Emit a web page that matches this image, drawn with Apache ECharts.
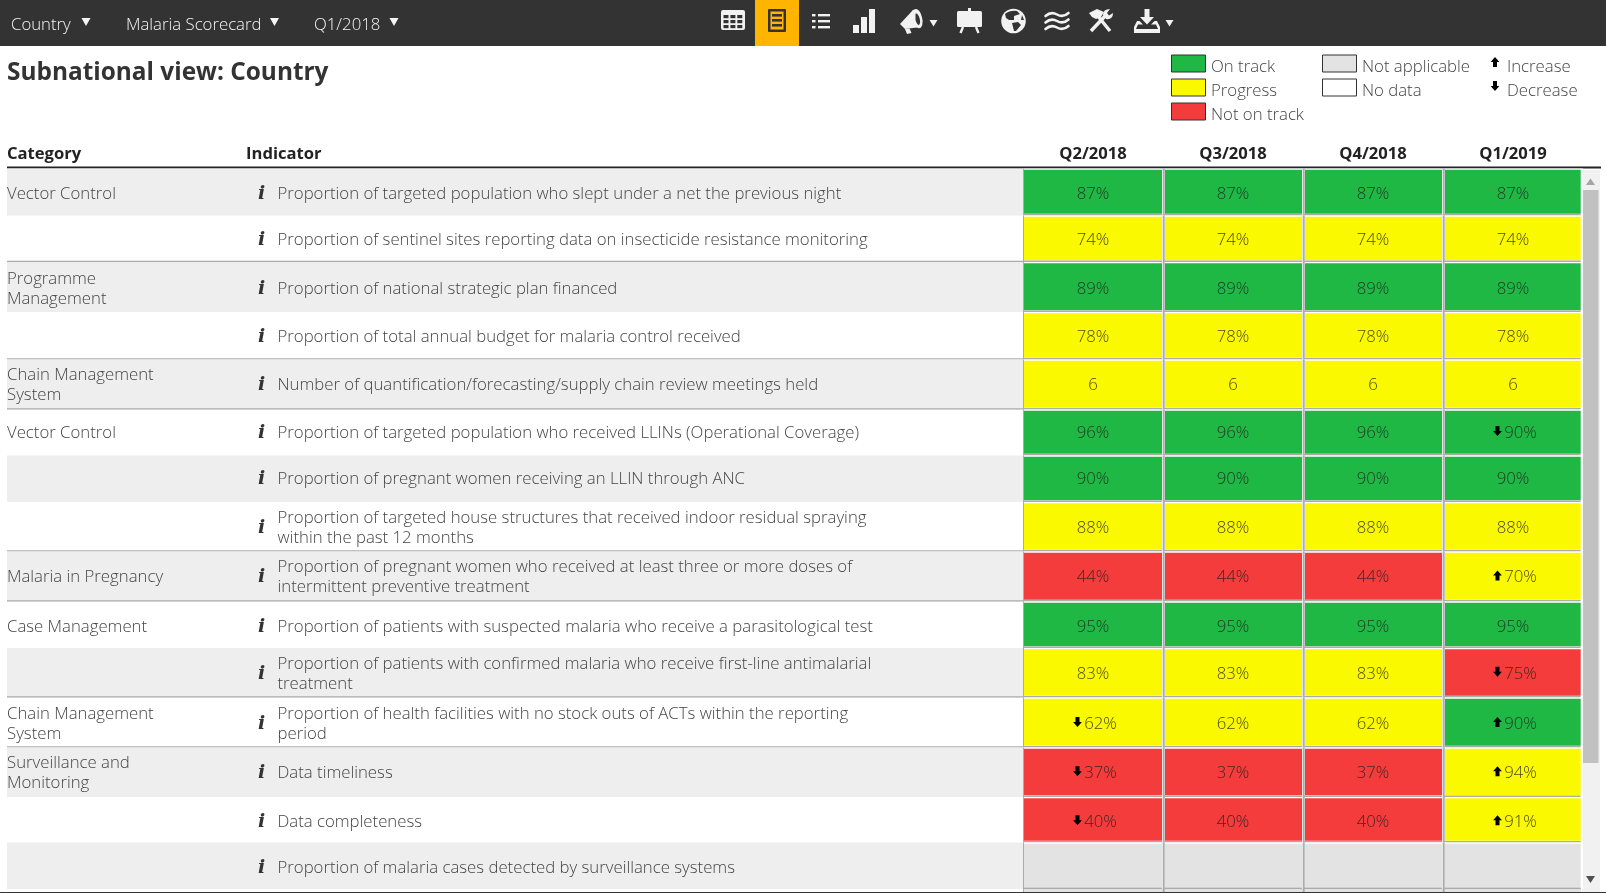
<!DOCTYPE html>
<html><head><meta charset="utf-8">
<style>html,body{margin:0;padding:0;background:#fff;overflow:hidden}#c{width:1606px;height:893px}</style>
<script src="https://cdn.jsdelivr.net/npm/echarts@6/dist/echarts.min.js"></script>
</head><body><div id="c"></div>
<script>
const quarters = ['Q2/2018','Q3/2018','Q4/2018','Q1/2019'];
const categories = ['Vector Control','','Programme\nManagement','','Chain Management\nSystem','Vector Control','','','Malaria in Pregnancy','Case Management','','Chain Management\nSystem','Surveillance and\nMonitoring','',''];
const indicators = [
 'Proportion of targeted population who slept under a net the previous night',
 'Proportion of sentinel sites reporting data on insecticide resistance monitoring',
 'Proportion of national strategic plan financed',
 'Proportion of total annual budget for malaria control received',
 'Number of quantification/forecasting/supply chain review meetings held',
 'Proportion of targeted population who received LLINs (Operational Coverage)',
 'Proportion of pregnant women receiving an LLIN through ANC',
 'Proportion of targeted house structures that received indoor residual spraying\nwithin the past 12 months',
 'Proportion of pregnant women who received at least three or more doses of\nintermittent preventive treatment',
 'Proportion of patients with suspected malaria who receive a parasitological test',
 'Proportion of patients with confirmed malaria who receive first-line antimalarial\ntreatment',
 'Proportion of health facilities with no stock outs of ACTs within the reporting\nperiod',
 'Data timeliness','Data completeness','Proportion of malaria cases detected by surveillance systems'];
const units = ['%','%','%','%','','%','%','%','%','%','%','%','%','%',''];
const q2Values = [87,74,89,78,6,96,90,88,44,95,83,62,37,40,null];
const q3Values = [87,74,89,78,6,96,90,88,44,95,83,62,37,40,null];
const q4Values = [87,74,89,78,6,96,90,88,44,95,83,62,37,40,null];
const q1Values = [87,74,89,78,6,90,90,88,70,95,75,90,94,91,null];
const q2Status = ['G','Y','G','Y','Y','G','G','Y','R','G','Y','Y','R','R','N'];
const q3Status = ['G','Y','G','Y','Y','G','G','Y','R','G','Y','Y','R','R','N'];
const q4Status = ['G','Y','G','Y','Y','G','G','Y','R','G','Y','Y','R','R','N'];
const q1Status = ['G','Y','G','Y','Y','G','G','Y','Y','G','R','G','Y','Y','N'];
const q2Trend = ['','','','','','','','','','','','d','d','d',''];
const q3Trend = ['','','','','','','','','','','','','','',''];
const q4Trend = ['','','','','','','','','','','','','','',''];
const q1Trend = ['','','','','','d','','','u','','d','u','u','u',''];
// row layout (px-height units on the y value axis, and the text's offset inside a row)
const rowSizes = [47,46.5,50,47.5,50,46,46.5,49.5,50,46.5,49.5,50,49.5,45.5,46.5];
const rowTextShift = [0,-1,0,-1,-2,-2,-2,-1,-1.5,0,-1.5,-1,-1.5,0,0];
const groupEnds = [1,3,4,7,8,10,11];

const FONT='"Open Sans"', TXT='#444', LIGHT='300 16.75px '+FONT;
const statusColor={G:'#1FB844',Y:'#FBF900',R:'#F43C3C',N:'#E3E3E3'};
const edges=[0]; rowSizes.forEach(h=>edges.push(edges[edges.length-1]+h));
const total=edges[edges.length-1];
const TOP=168.5, GRID_X=1023, GRID_W=560;
const vals=[q2Values,q3Values,q4Values,q1Values], sts=[q2Status,q3Status,q4Status,q1Status], trs=[q2Trend,q3Trend,q4Trend,q1Trend];
const cellData=[]; vals.forEach((col,q)=>col.forEach((v,r)=>cellData.push([q,r])));
const rowData=indicators.map((s,r)=>[0,r]);
const ARROW_D='M-2 -5 L2 -5 L2 0 L4.4 0 L0 5 L-4.4 0 L-2 0 Z', ARROW_U='M-2 5 L2 5 L2 0 L4.4 0 L0 -5 L-4.4 0 L-2 0 Z';

function renderCell(params,api){
  const q=api.value(0), r=api.value(1), v=vals[q][r];
  const c=api.coord([q,edges[r]]), bot=api.coord([q,edges[r+1]])[1], top=c[1];
  const bw=api.size([1,0])[0], x0=c[0]-bw/2, cx=c[0];
  const st=sts[q][r], tr=trs[q][r];
  const fx=x0+(q===0?1:2), fr=x0+(q===3?137.7:139);
  const ch=[
    {type:'rect',shape:{x:x0,y:top,width:bw,height:bot-top},style:{fill:'#fff'}},
    {type:'rect',shape:{x:fx,y:top+1.2,width:fr-fx,height:bot-top-3},style:{fill:statusColor[st]}},
    {type:'rect',shape:{x:x0,y:bot-1.6,width:fr-x0,height:1.6},style:{fill:'#ABABAB'}},
    {type:'rect',shape:{x:x0-(q===0?0:0.3),y:top,width:q===0?1:2,height:bot-top},style:{fill:'#ABABAB'}}
  ];
  if(v!=null){
    const label=v+units[r], off=tr?7.5:0, cy=(top+bot)/2-0.5+rowTextShift[r];
    ch.push({type:'text',style:{text:label,x:cx+off,y:cy+3,align:'center',verticalAlign:'middle',font:LIGHT,fill:'rgba(30,30,30,0.82)'}});
    if(tr) ch.push({type:'path',x:cx-15.5,y:cy+1,shape:{pathData:tr==='d'?ARROW_D:ARROW_U},style:{fill:'#000'}});
  }
  return {type:'group',children:ch};
}
function renderRow(params,api){
  const r=api.value(1), x0=api.coord([7,0])[0], x1=api.coord([GRID_X,0])[0];
  const top=api.coord([0,edges[r]])[1], bot=api.coord([0,edges[r+1]])[1], cy=(top+bot)/2-0.5+rowTextShift[r];
  const ch=[];
  if(r%2===0) ch.push({type:'rect',shape:{x:x0,y:top,width:x1-x0,height:bot-top},style:{fill:'#EEEEEE'}});
  if(groupEnds.includes(r)) ch.push({type:'rect',shape:{x:x0,y:bot-1.2,width:x1-x0,height:1.2},style:{fill:'#ABABAB'}});
  ch.push({type:'text',style:{text:categories[r],x:x0,y:cy+3,align:'left',verticalAlign:'middle',font:LIGHT,lineHeight:20,fill:TXT}});
  ch.push({type:'text',style:{text:'i',x:261.5,y:cy+3,align:'center',verticalAlign:'middle',font:'italic bold 19px "DejaVu Serif"',fill:'#333'}});
  ch.push({type:'text',style:{text:indicators[r],x:277.5,y:cy+3,align:'left',verticalAlign:'middle',font:LIGHT,lineHeight:20,fill:TXT}});
  return {type:'group',children:ch};
}

// page furniture
const g=[];
const R=(x,y,w,h,fill,rad,extra)=>g.push({type:'rect',shape:{x,y,width:w,height:h,r:rad||0},style:Object.assign({fill},extra||{})});
const T=(text,x,y,font,fill,align)=>g.push({type:'text',style:{text,x,y,font,fill,align:align||'left',verticalAlign:'middle'}});
const P=(d,style)=>g.push({type:'path',shape:{pathData:d},style});
const W='#F2F2F2', BAR='#333333';
R(0,0,1606,46,BAR);
[['Country',11,86],['Malaria Scorecard',126,274.5],['Q1/2018',314,394]].forEach(a=>{
  T(a[0],a[1],25,LIGHT,'#F5F5F5');
  P(`M${a[2]-4.5} 18 L${a[2]+4.5} 18 L${a[2]} 26 Z`,{fill:'#F5F5F5'});
});
// table icon
R(721,10,24,20,W,2);
for(let i=0;i<3;i++)for(let j=0;j<3;j++)R(723.5+i*6.9,15+j*5,5,3.2,BAR);
// active tab
R(755,0,44,46,'#FFB400');
R(768,9,18,23,BAR,1); R(770.5,11.5,13,18,'#FFB400');
[14,19,24].forEach(y=>R(772,y,10,2.6,BAR));
// list
[15,21,27].forEach(y=>{R(812,y-1,3.5,2.4,W);R(818,y-1,12,2.4,W);});
// bars
R(853,25,6,8,W);R(861,17,6,16,W);R(869,9,6,24,W);
// megaphone
P('M900 24 L913 10 L921 27 L905 29 Z',{fill:W});
P('M905 29 L909.5 28.5 L911.5 33 L907 34 Z',{fill:W});
P('M912.5 10.5 Q917 6.5 920.5 13 Q924.5 22 921 27.5 Q917.5 30 914.5 25 Z',{fill:W});
P('M915.5 13.5 Q918 13 919.5 18 Q921 23 919 25 Q917 25 915.5 20 Z',{fill:BAR});
P('M929.5 20 L937.5 20 L933.5 26.5 Z',{fill:W});
// board
R(957,11,25,16,W,1.5);R(968,8,3,3,W);
P('M963 27 L960.5 33 M976 27 L978.5 33',{stroke:W,lineWidth:2.4,fill:'none'});
// globe
g.push({type:'circle',shape:{cx:1013.5,cy:21,r:12.3},style:{fill:W}});
P('M1005 14 Q1010 10 1017 11 L1020 14 L1014 16 L1014 20 L1009 20 L1006 18 Z',{fill:BAR});
P('M1012 23 L1018 22 L1021 25 L1016 31 L1014 31 L1013 27 Z',{fill:BAR});
P('M1022 15 L1024 20 L1021 20 Z',{fill:BAR});
// waves
[14.5,21,27.5].forEach(y=>P(`M1045.5 ${y+1.5} Q1051 ${y-3.5} 1057 ${y} T1068.5 ${y-1.5}`,{stroke:W,lineWidth:2.6,fill:'none',lineCap:'round'}));
// tools
P('M1110 31 L1097 15',{stroke:W,lineWidth:3.4,fill:'none'});
P('M1089 13 L1097 9 L1104 12 L1101 17 L1096 19 L1092 17 Z',{fill:W});
P('M1091 31 L1106 15',{stroke:W,lineWidth:3.4,fill:'none'});
P('M1103 15 Q1103 9 1110 9 L1107 13 L1109 15.5 L1113 13 Q1113 20 1106 19 Z',{fill:W});
// download
P('M1144.5 9 L1149.5 9 L1149.5 17 L1154 17 L1147 24.5 L1140 17 L1144.5 17 Z',{fill:W});
P('M1139.5 21 L1143 24.5 L1138 24.5 L1136 29 L1158 29 L1156 24.5 L1151 24.5 L1154.5 21 L1157 21 L1160 27 L1160 33 L1134 33 L1134 27 L1137 21 Z',{fill:W});
P('M1165.5 20 L1173.5 20 L1169.5 26.5 Z',{fill:W});
// title & headers
T('Subnational view: Country',7,73.5,'bold 24.4px '+FONT,'#333');
T('Category',7,154,'bold 16.6px '+FONT,'#222');
T('Indicator',246,154,'bold 16.6px '+FONT,'#222');
R(7,166.5,1594,2,'#222');
// legend
[['On track','#1FB844',55],['Progress','#FBF900',79],['Not on track','#F43C3C',103]].forEach(a=>{
  R(1171.5,a[2],34,17,a[1],0,{stroke:'#333',lineWidth:1});
  T(a[0],1211,a[2]+12,LIGHT,TXT);
});
[['Not applicable','#E3E3E3',55],['No data','#FFFFFF',79]].forEach(a=>{
  R(1322.5,a[2],34,17,a[1],0,{stroke:'#333',lineWidth:1});
  T(a[0],1362,a[2]+12,LIGHT,TXT);
});
g.push({type:'path',x:1495,y:62,shape:{pathData:ARROW_U},style:{fill:'#000'}});
g.push({type:'path',x:1495,y:86,shape:{pathData:ARROW_D},style:{fill:'#000'}});
T('Increase',1507,67,LIGHT,TXT);
T('Decrease',1507,91,LIGHT,TXT);
// scrollbar
R(1582,170,18,722,'#F1F1F1');
R(1582.5,190,16,573,'#C1C1C1');
P('M1586 185 L1595 185 L1590.5 178.5 Z',{fill:'#A6A6A6'});
P('M1586 876 L1595 876 L1590.5 883 Z',{fill:'#505050'});
// clipped next row and window edge
R(1024,889,557,3,'#E3E3E3');
[1023,1162.7,1302.7,1442.7].forEach(x=>R(x,889,x===1023?1:2,3,'#ABABAB'));
R(0,892,1606,1,'#333');

const chart=echarts.init(document.getElementById('c'),null,{renderer:'canvas'});
chart.setOption({
  animation:false, backgroundColor:'#fff',
  grid:[
    {left:GRID_X,top:TOP,width:GRID_W,height:total},
    {left:0,top:TOP,width:GRID_X,height:total}
  ],
  xAxis:[
    {type:'category',gridIndex:0,position:'top',data:quarters,axisLine:{show:false},axisTick:{show:false},splitLine:{show:false},
     axisLabel:{fontFamily:'Open Sans',fontWeight:'bold',fontSize:16.6,color:'#222',margin:6}},
    {type:'value',gridIndex:1,min:0,max:GRID_X,show:false}
  ],
  yAxis:[
    {type:'value',gridIndex:0,min:0,max:total,inverse:true,show:false},
    {type:'value',gridIndex:1,min:0,max:total,inverse:true,show:false}
  ],
  series:[
    {type:'custom',xAxisIndex:1,yAxisIndex:1,data:rowData,renderItem:renderRow,clip:false,z:2,encode:{x:0,y:1}},
    {type:'custom',xAxisIndex:0,yAxisIndex:0,data:cellData,renderItem:renderCell,clip:false,z:3,encode:{x:0,y:1}},
    {type:'custom',xAxisIndex:1,yAxisIndex:1,data:[[0,0]],renderItem:()=>({type:'group',children:g}),clip:false,z:1,silent:true}
  ]
});
</script></body></html>
